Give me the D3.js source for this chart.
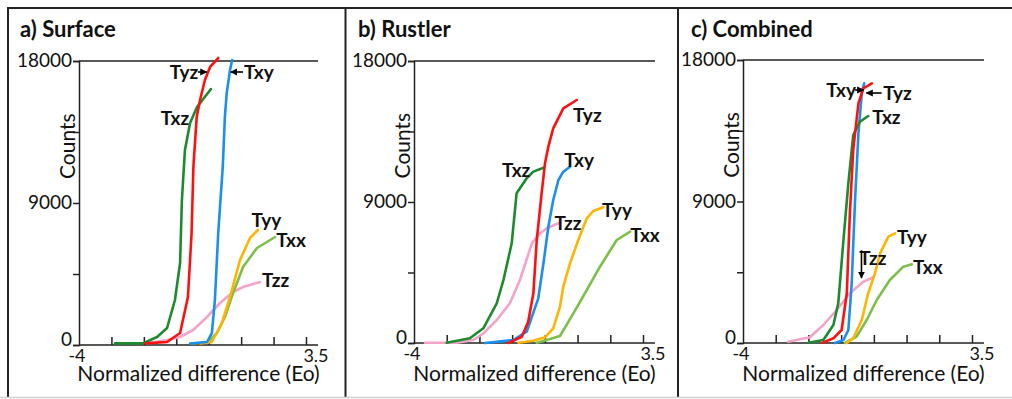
<!DOCTYPE html>
<html><head><meta charset="utf-8">
<script src="https://cdn.jsdelivr.net/npm/d3@7"></script>
<style>body{margin:0;background:#fff;} svg{display:block;font-family:Lato,"Open Sans",sans-serif;}</style>
</head><body><svg id="chart" width="1012" height="399"></svg>
<script>
// ---- data (x: normalized difference, y: counts) ----
const xTickLabels = ["-4", "3.5"];
const yTickValues = [0, 4500, 9000, 13500, 18000];
const yTickLabels = ["0", "", "9000", "", "18000"];
const seriesOrder = ["Tzz", "Txx", "Tyy", "Txy", "Txz", "Tyz"];

// a) Surface
const surfaceTxz = [[-2.81,100],[-1.89,100],[-1.42,507],[-1.09,1077],[-0.83,2852],[-0.66,5197],[-0.60,9190],[-0.50,12359],[-0.33,14070],[-0.10,15084],[0.36,16225]];
const surfaceTyz = [[-1.8,100],[-1.09,190],[-0.66,760],[-0.40,3042],[-0.28,7099],[-0.22,11300],[-0.11,14470],[0.00,15528],[0.16,16796],[0.33,17620],[0.60,18190]];
const surfaceTxy = [[-0.33,100],[0.23,190],[0.39,760],[0.49,2852],[0.60,7099],[0.75,11300],[0.82,14470],[0.88,15953],[0.99,17430],[1.06,18063]];
const surfaceTyy = [[0.00,100],[0.39,190],[0.72,1394],[0.99,3042],[1.32,5387],[1.65,6782],[1.91,7289]];
const surfaceTxx = [[-0.27,100],[0.26,190],[0.56,760],[0.82,1775],[1.09,3296],[1.42,4944],[1.88,6148],[2.48,6845]];
const surfaceTzz = [[-1.72,127],[-1.09,317],[-0.66,507],[-0.23,951],[0.23,1775],[0.66,2662],[1.09,3359],[1.42,3676],[1.98,3993]];
const surfaceLabels = [["Tyz",-1.0,17303],["Txy",1.45,17303],["Txz",-1.3,14387],["Tyy",1.70,7922],["Txx",2.52,6655],["Tzz",2.05,4120]];
const surfaceArrows = [[-0.07,17303,0.22,17303],[1.42,17303,1.02,17303]];

// b) Rustler
const rustlerTzz = [[-3.64,20],[-2.60,20],[-2.06,191],[-1.73,619],[-1.29,1468],[-0.86,2534],[-0.53,4021],[-0.14,6364],[0.13,7002],[0.35,7321],[0.73,7640]];
const rustlerTxz = [[-2.93,20],[-2.17,300],[-1.73,938],[-1.29,2534],[-1.07,4021],[-0.80,6364],[-0.64,9555],[-0.31,10513],[-0.09,10938],[0.24,11190]];
const rustlerTyz = [[-0.91,0],[-0.47,402],[-0.26,1360],[-0.09,3172],[0.02,6574],[0.18,9555],[0.29,11470],[0.40,12530],[0.56,13704],[0.89,14981],[1.33,15511]];
const rustlerTxy = [[-1.67,0],[-0.75,191],[-0.31,721],[0.07,2853],[0.24,5087],[0.40,7423],[0.56,9128],[0.73,10404],[0.89,10934],[1.11,11253]];
const rustlerTyy = [[-0.58,20],[-0.09,147],[0.29,364],[0.56,938],[0.78,2317],[0.89,3594],[1.11,5087],[1.38,6574],[1.66,7960],[1.87,8426],[2.20,8662]];
const rustlerTxx = [[0.02,20],[0.35,191],[0.78,447],[1.22,1896],[1.66,3383],[2.09,4870],[2.64,6574],[3.08,7104]];
const rustlerLabels = [["Tyz",1.21,14553],["Txy",0.92,11681],["Txz",-1.12,11043],["Tzz",0.60,7660],["Tyy",2.16,8489],["Txx",3.08,6894]];
const rustlerArrows = [];

// c) Combined
const combinedTzz = [[-2.52,83],[-1.81,363],[-1.37,1145],[-0.93,2099],[-0.50,3161],[-0.06,3899],[0.27,4179]];
const combinedTxz = [[-1.86,19],[-1.37,191],[-1.04,1145],[-0.88,2525],[-0.71,6551],[-0.55,10157],[-0.39,13229],[-0.17,14075],[0.10,14438]];
const combinedTyz = [[-1.39,19],[-1.04,299],[-0.77,827],[-0.60,3161],[-0.50,8250],[-0.39,12275],[-0.22,15245],[-0.06,16199],[0.22,16517]];
const combinedTxy = [[-0.99,0],[-0.71,191],[-0.55,827],[-0.44,3797],[-0.33,9095],[-0.22,13337],[-0.11,15881],[-0.03,16517]];
const combinedTyy = [[-0.60,0],[-0.39,299],[-0.11,1463],[0.10,3161],[0.32,4433],[0.49,5705],[0.76,6761],[0.98,6977]];
const combinedTxx = [[-0.66,0],[-0.28,401],[0.05,1463],[0.38,2735],[0.81,4007],[1.25,4853],[1.53,5005]];
const combinedLabels = [["Txy",-1.27,16091],["Tyz",0.59,15900],["Txz",0.23,14374],["Tyy",1.04,6742],["Txx",1.57,4834],["Tzz",-0.19,5406]];
const combinedArrows = [[-0.33,16091,-0.05,16091],[0.54,15900,0.04,15900],[-0.12,5900,-0.12,4134]];

// ---- styles ----
const colors = {Txz:"#1e8a2e", Tyz:"#ff1010", Txy:"#1a8fef", Tyy:"#ffb400", Txx:"#7cbf4a", Tzz:"#f5a3c8"};

const panels = [
  {title:"a) Surface", tx:20, left:79, right:306, bottom:345, top:61,
   data:{Txz:surfaceTxz,Tyz:surfaceTyz,Txy:surfaceTxy,Tyy:surfaceTyy,Txx:surfaceTxx,Tzz:surfaceTzz}, labels:surfaceLabels, arrows:surfaceArrows},
  {title:"b) Rustler", tx:358, left:414, right:643, bottom:343, top:61,
   data:{Txz:rustlerTxz,Tyz:rustlerTyz,Txy:rustlerTxy,Tyy:rustlerTyy,Txx:rustlerTxx,Tzz:rustlerTzz}, labels:rustlerLabels, arrows:rustlerArrows},
  {title:"c) Combined", tx:691, left:743, right:972, bottom:343, top:60,
   data:{Txz:combinedTxz,Tyz:combinedTyz,Txy:combinedTxy,Tyy:combinedTyy,Txx:combinedTxx,Tzz:combinedTzz}, labels:combinedLabels, arrows:combinedArrows}
];

const svg = d3.select("#chart");
const defs = svg.append("defs");
defs.append("marker").attr("id","ah").attr("viewBox","0 0 10 10").attr("refX",9).attr("refY",5)
  .attr("markerWidth",4.5).attr("markerHeight",4.5).attr("orient","auto")
  .append("path").attr("d","M0,0 L10,5 L0,10 z").attr("fill","#000");

// frame
const frame = svg.append("g").attr("stroke","#222").attr("stroke-width",2);
frame.append("line").attr("x1",8).attr("x2",1012).attr("y1",8).attr("y2",8);
frame.append("line").attr("x1",8).attr("x2",8).attr("y1",7).attr("y2",397);
frame.append("line").attr("x1",345.5).attr("x2",345.5).attr("y1",7).attr("y2",397);
frame.append("line").attr("x1",678).attr("x2",678).attr("y1",7).attr("y2",397);
svg.append("line").attr("x1",0).attr("x2",1012).attr("y1",397.5).attr("y2",397.5).attr("stroke","#d0d0d0").attr("stroke-width",1.5);

panels.forEach(p => {
  const x = d3.scaleLinear().domain([-4, 3.5]).range([p.left, p.right]);
  const y = d3.scaleLinear().domain([0, 18000]).range([p.bottom, p.top]);
  const g = svg.append("g");
  const axisEnd = x(3.5) + 12;

  g.append("text").attr("x",p.tx).attr("y",37).attr("font-weight","bold").attr("font-size",22).attr("fill","#111").text(p.title);

  // x axis
  const xt = d3.range(1,8).map(k => -4 + k*7.5/7);
  const xa = g.append("g").attr("transform",`translate(0,${y(0)})`)
    .call(d3.axisBottom(x).tickValues(xt).tickSizeInner(-8).tickSizeOuter(0).tickFormat(""));
  xa.select(".domain").remove();
  xa.selectAll(".tick line").attr("stroke","#222").attr("stroke-width",1.5);
  g.append("line").attr("x1",x(-4)).attr("x2",axisEnd).attr("y1",y(0)).attr("y2",y(0)).attr("stroke","#222").attr("stroke-width",1.5);
  g.append("line").attr("x1",x(-4)).attr("x2",axisEnd).attr("y1",y(18000)).attr("y2",y(18000)).attr("stroke","#222").attr("stroke-width",1.5);
  g.append("text").attr("x",x(-4)-2).attr("y",y(0)+17).attr("text-anchor","middle").attr("font-size",18).attr("fill","#111").text(xTickLabels[0]);
  g.append("text").attr("x",x(3.5)+10).attr("y",y(0)+17).attr("text-anchor","middle").attr("font-size",18).attr("fill","#111").text(xTickLabels[1]);

  // y axis
  const ya = g.append("g").attr("transform",`translate(${x(-4)},0)`)
    .call(d3.axisLeft(y).tickValues(yTickValues).tickSize(6).tickPadding(1).tickFormat((d,i) => yTickLabels[i]));
  ya.select(".domain").attr("stroke","#222").attr("stroke-width",1.5);
  ya.selectAll(".tick line").attr("stroke","#222").attr("stroke-width",1.5);
  ya.selectAll(".tick text").attr("font-size",19).attr("font-family","Lato").attr("fill","#111").attr("dy","0.3em");
  ya.selectAll(".tick text").filter((d) => d === 0).attr("dy","0.05em");

  // axis titles
  g.append("text").attr("x",(x(-4)+axisEnd)/2).attr("y",381).attr("text-anchor","middle").attr("font-size",21).attr("fill","#111").text("Normalized difference (Eo)");
  g.append("text").attr("transform",`translate(${x(-4)-4},${y(12600)}) rotate(-90)`).attr("text-anchor","middle").attr("font-size",21).attr("fill","#111").text("Counts");

  // curves
  const line = d3.line().x(d => x(d[0])).y(d => y(d[1]));
  seriesOrder.forEach(name => {
    g.append("path").datum(p.data[name]).attr("d",line).attr("fill","none")
      .attr("stroke",colors[name]).attr("stroke-width",2.6).attr("stroke-linejoin","round").attr("stroke-linecap","round");
  });

  // labels
  p.labels.forEach(l => {
    g.append("text").attr("x",x(l[1])).attr("y",y(l[2])).attr("dy","0.35em").attr("font-size",19).attr("font-weight","bold").attr("fill","#111").text(l[0]);
  });
  p.arrows.forEach(a => {
    g.append("line").attr("x1",x(a[0])).attr("y1",y(a[1])).attr("x2",x(a[2])).attr("y2",y(a[3]))
      .attr("stroke","#000").attr("stroke-width",1.6).attr("marker-end","url(#ah)");
  });
});
</script></body></html>
